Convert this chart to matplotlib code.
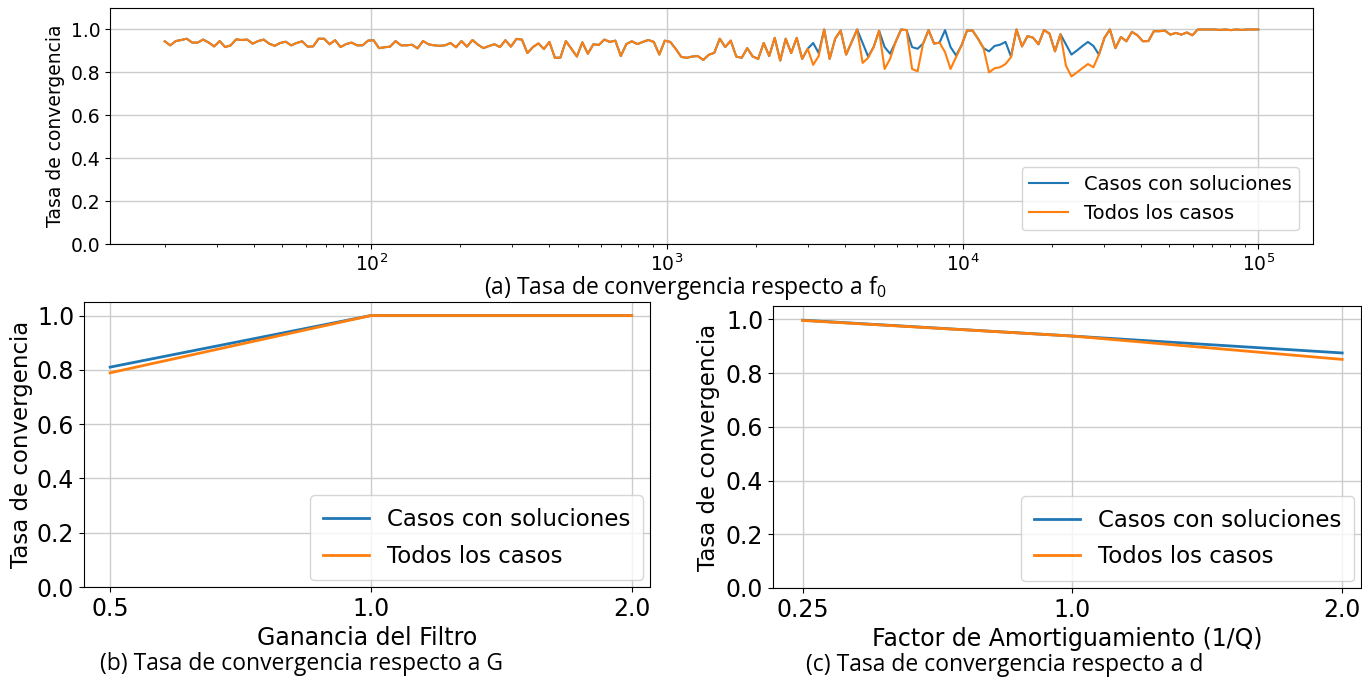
import numpy as np
import matplotlib
matplotlib.use("Agg")
import matplotlib.pyplot as plt

# ---------------------------- data ---------------------------------------- #
# barrido de f0 (200 puntos log-espaciados de 20 Hz a 100 kHz)
f0 = np.geomspace(20, 1e5, 200)

todos_f0 = [
    0.945, 0.926, 0.946, 0.951, 0.957, 0.939, 0.939, 0.953, 0.939, 0.921,
    0.946, 0.918, 0.926, 0.954, 0.951, 0.953, 0.934, 0.946, 0.953, 0.934,
    0.924, 0.937, 0.943, 0.926, 0.937, 0.945, 0.920, 0.921, 0.957, 0.957,
    0.931, 0.950, 0.918, 0.932, 0.939, 0.926, 0.926, 0.948, 0.950, 0.913,
    0.917, 0.920, 0.946, 0.926, 0.926, 0.929, 0.912, 0.946, 0.931, 0.926,
    0.924, 0.926, 0.937, 0.917, 0.946, 0.920, 0.951, 0.929, 0.913, 0.923,
    0.931, 0.918, 0.950, 0.920, 0.956, 0.953, 0.890, 0.918, 0.935, 0.909,
    0.942, 0.868, 0.869, 0.946, 0.910, 0.874, 0.940, 0.887, 0.931, 0.928,
    0.953, 0.942, 0.948, 0.876, 0.932, 0.945, 0.932, 0.942, 0.951, 0.942,
    0.883, 0.948, 0.942, 0.909, 0.872, 0.868, 0.874, 0.876, 0.858, 0.882,
    0.891, 0.957, 0.918, 0.948, 0.874, 0.868, 0.913, 0.874, 0.863, 0.937,
    0.876, 0.961, 0.855, 0.957, 0.890, 0.961, 0.863, 0.910, 0.835, 0.876,
    1.000, 0.863, 0.957, 0.995, 0.883, 0.942, 1.000, 0.844, 0.868, 0.918,
    0.994, 0.816, 0.863, 0.942, 1.000, 0.997, 0.816, 0.805, 0.934, 0.997,
    0.934, 0.939, 0.894, 0.816, 0.871, 0.926, 0.995, 0.995, 0.957, 0.913,
    0.800, 0.819, 0.824, 0.839, 0.871, 1.000, 0.921, 0.969, 0.962, 0.931,
    0.997, 0.981, 0.898, 0.978, 0.831, 0.781, 0.800, 0.820, 0.839, 0.824,
    0.883, 0.961, 1.000, 0.913, 0.965, 0.945, 0.989, 0.973, 0.945, 0.946,
    0.992, 0.992, 0.995, 0.976, 0.984, 0.976, 0.986, 0.973, 1.000, 1.000,
    1.000, 1.000, 0.998, 1.000, 0.997, 1.000, 0.998, 1.000, 1.000, 1.000,
]

sol_f0 = [
    0.945, 0.926, 0.946, 0.951, 0.957, 0.939, 0.939, 0.953, 0.939, 0.921,
    0.946, 0.918, 0.926, 0.954, 0.951, 0.953, 0.934, 0.946, 0.953, 0.934,
    0.924, 0.937, 0.943, 0.926, 0.937, 0.945, 0.920, 0.921, 0.957, 0.957,
    0.931, 0.950, 0.918, 0.932, 0.939, 0.926, 0.926, 0.948, 0.950, 0.913,
    0.917, 0.920, 0.946, 0.926, 0.926, 0.929, 0.912, 0.946, 0.931, 0.926,
    0.924, 0.926, 0.937, 0.917, 0.946, 0.920, 0.951, 0.929, 0.913, 0.923,
    0.931, 0.918, 0.950, 0.920, 0.956, 0.953, 0.890, 0.918, 0.935, 0.909,
    0.942, 0.868, 0.869, 0.946, 0.910, 0.874, 0.940, 0.887, 0.931, 0.928,
    0.953, 0.942, 0.948, 0.876, 0.932, 0.945, 0.932, 0.942, 0.951, 0.942,
    0.883, 0.948, 0.942, 0.909, 0.872, 0.868, 0.874, 0.876, 0.858, 0.882,
    0.891, 0.957, 0.918, 0.948, 0.874, 0.868, 0.913, 0.874, 0.863, 0.937,
    0.876, 0.961, 0.855, 0.957, 0.890, 0.961, 0.863, 0.910, 0.937, 0.890,
    1.000, 0.863, 0.957, 0.995, 0.883, 0.942, 1.000, 0.937, 0.874, 0.918,
    0.994, 0.918, 0.887, 0.942, 1.000, 0.997, 0.918, 0.910, 0.934, 0.997,
    0.934, 0.939, 0.997, 0.918, 0.879, 0.926, 0.995, 0.995, 0.957, 0.913,
    0.898, 0.923, 0.929, 0.942, 0.874, 1.000, 0.921, 0.969, 0.962, 0.931,
    0.997, 0.981, 0.898, 0.978, 0.930, 0.883, 0.902, 0.923, 0.942, 0.923,
    0.883, 0.961, 1.000, 0.913, 0.965, 0.945, 0.989, 0.973, 0.945, 0.946,
    0.992, 0.992, 0.995, 0.976, 0.984, 0.976, 0.986, 0.973, 1.000, 1.000,
    1.000, 1.000, 0.998, 1.000, 0.997, 1.000, 0.998, 1.000, 1.000, 1.000,
]

ganancia = ["0.5", "1.0", "2.0"]
sol_g = [0.81, 1.0, 1.0]
todos_g = [0.789, 1.0, 1.0]

amort = ["0.25", "1.0", "2.0"]
sol_d = [0.997, 0.938, 0.875]
todos_d = [0.996, 0.938, 0.851]

# ---------------------------- figure -------------------------------------- #
plt.rcParams['font.family'] = ['DejaVu Sans']
fig = plt.figure(figsize=(13.62, 6.86), dpi=100)

AZUL = '#1f77b4'
NARANJA = '#ff7f0e'
GRID = '#cccccc'

# (a) tasa vs f0
ax1 = fig.add_axes([0.0808, 0.6443, 0.8832, 0.344])
ax1.plot(f0, sol_f0, color=AZUL, lw=1.5, label='Casos con soluciones')
ax1.plot(f0, todos_f0, color=NARANJA, lw=1.5, label='Todos los casos')
ax1.set_xscale('log')
ax1.set_ylim(0, 1.1)
ax1.set_yticks([0, 0.2, 0.4, 0.6, 0.8, 1.0])
ax1.grid(True, color=GRID, lw=1)
ax1.set_ylabel('Tasa de convergencia', fontsize=13.5)
ax1.tick_params(labelsize=13.5)
ax1.legend(loc='lower right', fontsize=14, borderaxespad=0.7)

# (b) tasa vs G
ax2 = fig.add_axes([0.0617, 0.1443, 0.4155, 0.4155])
x = np.arange(len(ganancia))
ax2.plot(x, sol_g, color=AZUL, lw=2, label='Casos con soluciones')
ax2.plot(x, todos_g, color=NARANJA, lw=2, label='Todos los casos')
ax2.set_xticks(x)
ax2.set_xticklabels(ganancia)
ax2.set_xlim(-0.1, 2.07)
ax2.set_ylim(0, 1.05)
ax2.set_yticks([0, 0.2, 0.4, 0.6, 0.8, 1.0])
ax2.grid(True, color=GRID, lw=1)
ax2.set_xlabel('Ganancia del Filtro', fontsize=17)
ax2.set_ylabel('Tasa de convergencia', fontsize=16.5, labelpad=3)
ax2.tick_params(labelsize=17)
ax2.legend(loc='lower right', fontsize=16.5, borderaxespad=0.3,
           labelspacing=0.6, borderpad=0.55)

# (c) tasa vs d
ax3 = fig.add_axes([0.5675, 0.1429, 0.4318, 0.4111])
x = np.arange(len(amort))
ax3.plot(x, sol_d, color=AZUL, lw=2, label='Casos con soluciones')
ax3.plot(x, todos_d, color=NARANJA, lw=2, label='Todos los casos')
ax3.set_xticks(x)
ax3.set_xticklabels(amort)
ax3.set_xlim(-0.11, 2.07)
ax3.set_ylim(0, 1.05)
ax3.set_yticks([0, 0.2, 0.4, 0.6, 0.8, 1.0])
ax3.grid(True, color=GRID, lw=1)
ax3.set_xlabel('Factor de Amortiguamiento (1/Q)', fontsize=17)
ax3.set_ylabel('Tasa de convergencia', fontsize=16.5)
ax3.tick_params(labelsize=17)
ax3.legend(loc='lower right', fontsize=16.5, borderaxespad=0.3,
           labelspacing=0.6, borderpad=0.55)

# captions
cap = dict(fontsize=16.5, family=['Open Sans', 'DejaVu Sans'], ha='center', va='center')
fig.text(685 / 1362, 1 - 288 / 686,
         r'(a) Tasa de convergencia respecto a f$\mathregular{_0}$', **cap)
fig.text(301 / 1362, 1 - 664 / 686, '(b) Tasa de convergencia respecto a G', **cap)
fig.text(1005 / 1362, 1 - 665 / 686, '(c) Tasa de convergencia respecto a d', **cap)

fig.savefig('out.png', dpi=100)
